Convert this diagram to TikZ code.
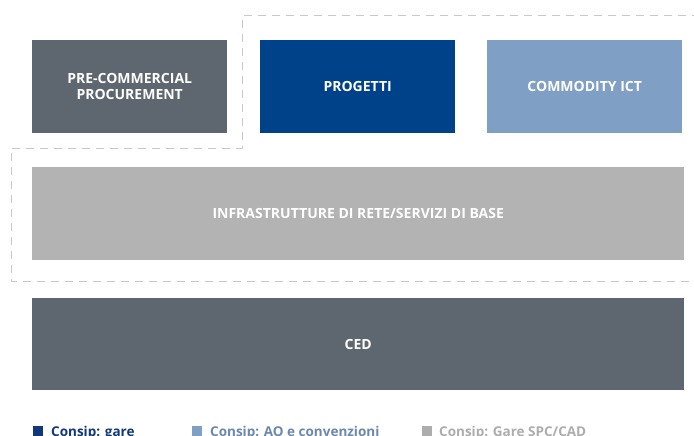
\documentclass[tikz,border=0pt]{standalone}
\usepackage{fontspec}
\setmainfont{Open Sans}
\definecolor{slate}{HTML}{5E6770}
\definecolor{navy}{HTML}{00428A}
\definecolor{sky}{HTML}{7FA0C4}
\definecolor{silver}{HTML}{B3B3B3}
\definecolor{dashc}{HTML}{C8C8C8}
\definecolor{legnavy}{HTML}{12387A}
\definecolor{legsky}{HTML}{6C88AC}
\definecolor{leggray}{HTML}{ADADAD}
\begin{document}
\begin{tikzpicture}[x=1pt,y=-1pt,
  blockbox/.style={draw=none,anchor=north west,inner sep=0pt,text=white,
    font=\fontsize{14}{16.5}\selectfont\bfseries,align=center},
  legsq/.style={anchor=north west,inner sep=0pt,minimum size=10pt},
  legtxt/.style={anchor=base west,inner sep=0pt,font=\fontsize{13.5}{15}\selectfont\bfseries}]
\useasboundingbox (0,0) rectangle (694,436);
\clip (0,0) rectangle (694,436);
\fill[white] (0,0) rectangle (694,436);
\draw[dashc,line width=1pt,dash pattern=on 8pt off 6pt]
  (700,16) -- (242,16) -- (242,148) -- (11,148) -- (11,281) -- (700,281);
\node[blockbox,fill=slate,minimum width=195pt,minimum height=93pt] (pcp) at (32,40) {PRE-COMMERCIAL\\PROCUREMENT};
\node[blockbox,fill=navy,minimum width=195pt,minimum height=93pt] (prog) at (260,40) {PROGETTI};
\node[blockbox,fill=sky,minimum width=195pt,minimum height=93pt] (comm) at (487,40) {COMMODITY ICT};
\node[blockbox,fill=silver,minimum width=652pt,minimum height=93pt] (infra) at (32,167) {INFRASTRUTTURE DI RETE/SERVIZI DI BASE};
\node[blockbox,fill=slate,minimum width=652pt,minimum height=92pt] (ced) at (32,298) {CED};
\node[legsq,fill=legnavy] (s1) at (33,426) {};
\node[legtxt,text=legnavy] (t1) at (51,436.5) {Consip: gare};
\node[legsq,fill=sky] (s2) at (192,426) {};
\node[legtxt,text=legsky] (t2) at (210,436.5) {Consip: AO e convenzioni};
\node[legsq,fill=leggray] (s3) at (422,426) {};
\node[legtxt,text=leggray] (t3) at (439,436.5) {Consip: Gare SPC/CAD};
\end{tikzpicture}
\end{document}
